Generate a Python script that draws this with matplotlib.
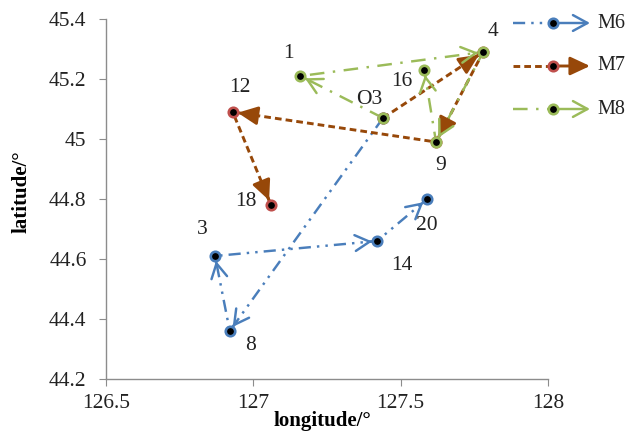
import matplotlib.pyplot as plt
from matplotlib.lines import Line2D
from matplotlib.ticker import FuncFormatter
import numpy as np

# station positions (longitude, latitude)
stations = ["O3", "1", "3", "4", "8", "9", "12", "14", "16", "18", "20"]
lon = [127.44, 127.16, 126.87, 127.78, 126.92, 127.62, 126.93, 127.42, 127.58, 127.06, 127.59]
lat = [45.07, 45.21, 44.61, 45.29, 44.36, 44.99, 45.09, 44.66, 45.23, 44.78, 44.80]

# visiting order of each route
route_names = ["M6", "M7", "M8"]
route_m6 = ["O3", "8", "3", "14", "20"]
route_m7 = ["O3", "4", "9", "12", "18"]
route_m8 = ["O3", "1", "4", "9", "16"]

xticks = [126.5, 127, 127.5, 128]
yticks = [44.2, 44.4, 44.6, 44.8, 45, 45.2, 45.4]

pos = {s: (x, y) for s, x, y in zip(stations, lon, lat)}

# label offsets from the point, in pixels
label_off = {"O3": (-14, 19), "1": (-12, 22), "3": (-13, 26), "4": (10, 20),
             "8": (21, -14), "9": (5, -24), "12": (7, 24), "14": (25, -25),
             "16": (-22, -11), "18": (-25, 4), "20": (0, -27)}

blue, brown, green = "#4a7ebb", "#974809", "#9bbb59"
red_edge = "#c0504d"
styles = {
    "M6": dict(color=blue, ls=(0, (5, 2.5, 1, 2.5, 1, 2.5)), lw=1.75, mec=blue,
               arrow="->,head_length=0.55,head_width=0.3", ms=19),
    "M7": dict(color=brown, ls=(0, (2.3, 1.4)), lw=2.1, mec=red_edge,
               arrow="-|>,head_length=0.6,head_width=0.28", ms=20),
    "M8": dict(color=green, ls=(0, (6, 3.5, 1, 3.5)), lw=1.75, mec=green,
               arrow="->,head_length=0.55,head_width=0.3", ms=19),
}
routes = {"M6": route_m6, "M7": route_m7, "M8": route_m8}

plt.rcParams['font.family'] = ['Liberation Serif', 'DejaVu Serif']
W, H = 630, 434
fig = plt.figure(figsize=(W / 100, H / 100), dpi=100)
ax = fig.add_axes([106 / W, 55 / H, 442 / W, 360 / H])
ax.set_xlim(126.5, 128)
ax.set_ylim(44.2, 45.4)
ax.set_xticks(xticks)
ax.set_yticks(yticks)
fmt = FuncFormatter(lambda v, p: f"{v:g}")
ax.xaxis.set_major_formatter(fmt)
ax.yaxis.set_major_formatter(fmt)
for s in ["top", "right"]:
    ax.spines[s].set_visible(False)
for s in ["left", "bottom"]:
    ax.spines[s].set_color("#8c8c8c")
    ax.spines[s].set_linewidth(1.0)
ax.tick_params(direction="out", length=5, color="#8c8c8c", labelsize=15.5,
               labelcolor="#222222")
ax.tick_params(axis="y", pad=9)
ax.tick_params(axis="x", pad=6)

fig.canvas.draw()
to_disp = ax.transData.transform
to_data = ax.transData.inverted().transform

for name in route_names:
    st = styles[name]
    pts = np.array([pos[s] for s in routes[name]])
    ax.plot(pts[:, 0], pts[:, 1], color=st["color"], ls=st["ls"], lw=st["lw"],
            zorder=2)
    for a, b in zip(pts[:-1], pts[1:]):
        p0, p1 = to_disp(a), to_disp(b)
        u = (p1 - p0) / np.hypot(*(p1 - p0))
        tip = p1 - u * 5
        tail = tip - u * 0.5
        ax.annotate("", xy=to_data(tip), xytext=to_data(tail),
                    arrowprops=dict(arrowstyle=st["arrow"], color=st["color"],
                                    lw=st["lw"], shrinkA=0, shrinkB=0,
                                    mutation_scale=st["ms"]), zorder=3)

for name in route_names:
    st = styles[name]
    pts = np.array([pos[s] for s in routes[name]])
    ax.plot(pts[:, 0], pts[:, 1], ls="none", marker="o", ms=6.8,
            mfc="black", mec=st["mec"], mew=1.9, zorder=4)

for s in stations:
    ax.annotate(s, pos[s], xytext=label_off[s], textcoords="offset pixels",
                ha="center", va="center", fontsize=15.5, color="#222222")

ax.set_xlabel("longitude/°", fontsize=15, fontweight="bold")
ax.xaxis.label.set_va("center")
ax.xaxis.set_label_coords(0.49, -0.117)
ax.set_ylabel("latitude/°", fontsize=15, fontweight="bold")
ax.yaxis.label.set_va("center")
ax.yaxis.set_label_coords(-0.19, 0.52)

# hand-drawn legend to the right of the plot
for i, name in enumerate(route_names):
    st = styles[name]
    yy = 1 - (23 + 43 * i) / H
    fig.add_artist(Line2D([513 / W, 553 / W], [yy, yy], transform=fig.transFigure,
                          color=st["color"], ls=st["ls"], lw=st["lw"]))
    ax.annotate("", xy=(590 / W, yy), xytext=(553 / W, yy),
                xycoords="figure fraction", textcoords="figure fraction",
                arrowprops=dict(arrowstyle=st["arrow"], color=st["color"],
                                lw=st["lw"], shrinkA=0, shrinkB=0,
                                mutation_scale=st["ms"]),
                annotation_clip=False)
    fig.add_artist(Line2D([553 / W], [yy], transform=fig.transFigure, ls="none",
                          marker="o", ms=6.8, mfc="black", mec=st["mec"], mew=1.9))
    fig.text(597 / W, yy, name, fontsize=14.5, va="center", ha="left",
             color="#222222")

fig.savefig("out.png", dpi=100)
